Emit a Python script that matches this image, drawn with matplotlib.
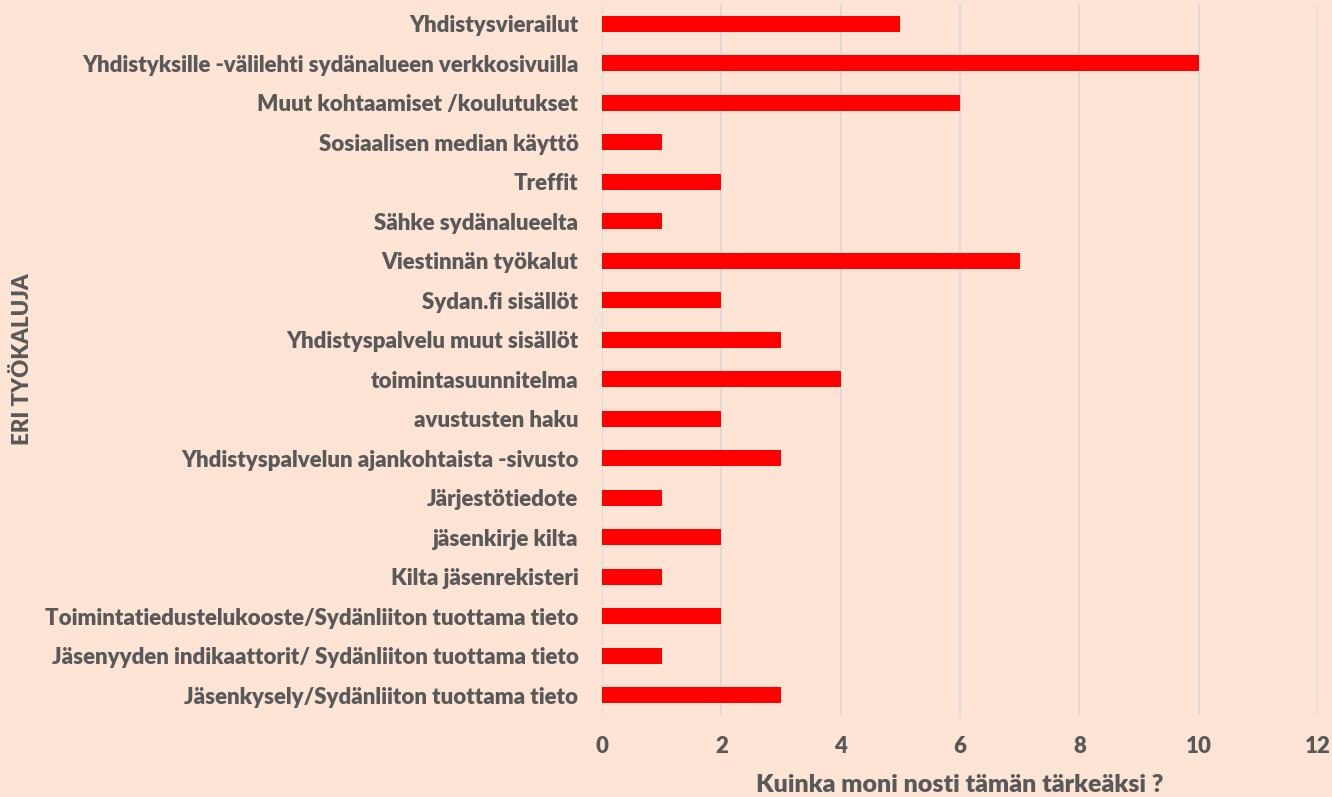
import matplotlib
matplotlib.use('Agg')
import matplotlib.pyplot as plt
import numpy as np

# categories listed top to bottom as in the chart
categories = [
    'Yhdistysvierailut',
    'Yhdistyksille -välilehti sydänalueen verkkosivuilla',
    'Muut kohtaamiset /koulutukset',
    'Sosiaalisen median käyttö',
    'Treffit',
    'Sähke sydänalueelta',
    'Viestinnän työkalut',
    'Sydan.fi sisällöt',
    'Yhdistyspalvelu muut sisällöt',
    'toimintasuunnitelma',
    'avustusten haku',
    'Yhdistyspalvelun ajankohtaista -sivusto',
    'Järjestötiedote',
    'jäsenkirje kilta',
    'Kilta jäsenrekisteri',
    'Toimintatiedustelukooste/Sydänliiton tuottama tieto',
    'Jäsenyyden indikaattorit/ Sydänliiton tuottama tieto',
    'Jäsenkysely/Sydänliiton tuottama tieto',
]
counts = [5, 10, 6, 1, 2, 1, 7, 2, 3, 4, 2, 3, 1, 2, 1, 2, 1, 3]
x_ticks = [0, 2, 4, 6, 8, 10, 12]

BG = '#FDE4D5'
TEXT = '#595959'
WEIGHT = 'heavy'

plt.rcParams['font.family'] = ['Lato', 'DejaVu Sans']

fig = plt.figure(figsize=(13.32, 7.97), dpi=100, facecolor=BG)
ax = fig.add_axes([0.452, 0.1029, 0.5375, 0.892])
ax.set_facecolor(BG)

y = np.arange(len(categories))
ax.barh(y, counts, height=0.4, color='#FF0000', zorder=3)

ax.set_ylim(len(categories) - 0.5, -0.5)
ax.set_xlim(0, 12)
ax.set_xticks(x_ticks)
ax.set_yticks(y)
ax.set_yticklabels(categories)

ax.grid(axis='x', color='#D9D9D9', linewidth=1.2, zorder=0)
ax.axvline(0, color='#D9D9D9', linewidth=1.2, zorder=1)
for s in ax.spines.values():
    s.set_visible(False)

ax.tick_params(axis='y', length=0, pad=17, labelsize=16, labelcolor=TEXT)
ax.tick_params(axis='x', length=0, pad=15, labelsize=16, labelcolor=TEXT)
for lbl in ax.get_xticklabels() + ax.get_yticklabels():
    lbl.set_fontweight(WEIGHT)

ax.set_xlabel('Kuinka moni nosti tämän tärkeäksi ?', fontsize=18, color=TEXT,
              fontweight=WEIGHT)
ax.xaxis.set_label_coords(0.5, -0.083)
ax.set_ylabel('ERI TYÖKALUJA', fontsize=16, color=TEXT, fontweight=WEIGHT)
ax.yaxis.set_label_coords(-0.795, 0.5)

fig.savefig('out.png', dpi=100, facecolor=BG)
